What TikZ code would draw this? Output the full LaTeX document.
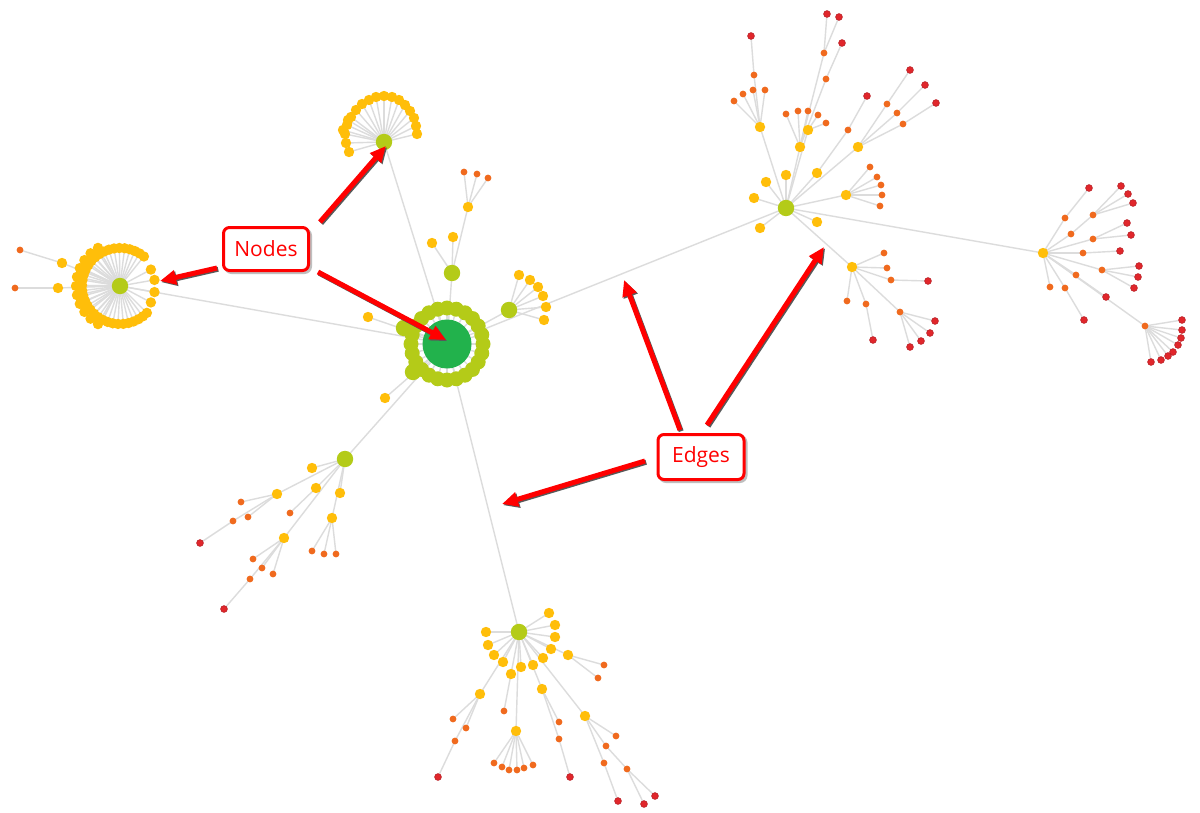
\documentclass[tikz,border=0pt]{standalone}
\usepackage{fontspec}
\newfontfamily\lab{Open Sans}
\usetikzlibrary{arrows.meta,calc}
\definecolor{cedge}{HTML}{DCDCDC}
\definecolor{clg}{HTML}{B4CB18}
\definecolor{cdg}{HTML}{22B24C}
\definecolor{cyl}{HTML}{FFBE0A}
\definecolor{cor}{HTML}{F06A1E}
\definecolor{crd}{HTML}{E1262B}
\definecolor{cdr}{HTML}{B81E25}
\tikzset{
 edge/.style={draw=cedge, line width=0.7pt},
 lg/.style={circle, fill=clg, inner sep=0pt, minimum size=8.2pt},
 dg/.style={circle, fill=cdg, inner sep=0pt, minimum size=24.5pt},
 yl/.style={circle, fill=cyl, inner sep=0pt, minimum size=5.2pt},
 orn/.style={circle, fill=cor, inner sep=0pt, minimum size=3.4pt},
 rdn/.style={circle, fill=crd, draw=cdr, line width=0.3pt, inner sep=0pt, minimum size=3.4pt},
 box/.style={draw=red, line width=1.5pt, rounded corners=3pt, fill=white, text=red,
   minimum width=42.5pt, minimum height=21.5pt, inner sep=0pt, font=\lab\fontsize{10.5}{12}\selectfont},
 boxsh/.style={box, draw=black!25, fill=black!25},
 arr/.style={line width=2.5pt, draw=red, -{Triangle[length=8pt,width=7pt]}},
 arrsh/.style={line width=2.5pt, draw=black!65, -{Triangle[length=8pt,width=7pt]}, transform canvas={xshift=0.6pt,yshift=-0.6pt}}
}
\newif\ifedgepass
% hub: style, name, position
\newcommand\hub[3]{\ifedgepass\coordinate (#2) at (#3);\else\node[#1] (#2) at (#3) {};\fi}
% kid: style, name, position, parent
\newcommand\kid[4]{\ifedgepass\coordinate (#2) at (#3);\draw[edge] (#4) -- (#2);\else\node[#1] (#2) at (#3) {};\fi}
% kids: style, prefix, parent, list of positions
\newcommand\kids[4]{\foreach \p [count=\i] in {#4}{\kid{#1}{#2\i}{\p}{#3}}}
% ring: style, prefix, parent, radius, angle list
\newcommand\ring[5]{\foreach \a [count=\i] in {#5}{\kid{#1}{#2\i}{$(#3)+(\a:#4)$}{#3}}}
\newcommand\callarrow[2]{\draw[arrsh] (#1) -- (#2); \draw[arr] (#1) -- (#2);}
\newcommand\graphbody{%
\hub{dg}{M}{447,344}
\kid{lg}{L}{120,286}{M}
\kid{lg}{T}{384,142}{M}
\kid{lg}{A}{452,273}{M}
\kid{lg}{B}{509,310}{M}
\kid{lg}{C}{345,459}{M}
\kid{lg}{D}{519,632}{M}
\kid{lg}{R}{786,208}{M}
\kid{yl}{R2}{1043,253}{R}
\kid{yl}{R3}{852,267}{R}
% main ring
\ring{lg,minimum size=7.5pt}{mr}{M}{36}{0,15,...,345}
\kid{lg}{mb1}{404,328}{M}
\kid{lg}{mb2}{413,372}{M}
\kid{yl}{m1}{368,317}{M}
\kid{yl}{m2}{385,398}{M}
% A
\kid{yl}{a1}{432,243}{A}
\kid{yl}{a2}{453,237}{A}
\kid{yl}{a3}{468,207}{A}
\kids{orn}{a3k}{a3}{{464,172},{477,174},{488,178}}
% B
\kids{yl}{bk}{B}{{519,275},{530,280},{538,287},{543,296},{546,307},{544,320}}
% L
\ring{yl}{lr}{L}{38}{45,53,...,315}
\ring{yl}{lx}{L}{44}{120,132,...,240}
\ring{yl}{ly}{L}{35}{-28,-10,10,28}
\kid{yl}{l1}{62,263}{L}
\kid{orn}{l1a}{20,250}{l1}
\kid{yl}{l2}{58,288}{L}
\kid{orn}{l2a}{15,288}{l2}
% T
\kids{yl}{tk}{T}{{349,152},{346,143},{345,134},{347,125},{351,117},{356,110},{362,104},{369,100},{376,97},{384,96},{392,97},{399,100},{405,105},{410,111},{414,118},{416,126},{417,134},{343,130},{348,120}}
% C
\kid{yl}{c1}{312,468}{C}
\kid{yl}{c2}{316,488}{C}
\kid{yl}{c3}{340,493}{C}
\kid{yl}{c4}{332,518}{C}
\kid{yl}{c5}{277,494}{C}
\kid{yl}{c6}{284,538}{C}
\kid{orn}{c5a}{241,502}{c5}
\kid{orn}{c5b}{248,517}{c5}
\kid{orn}{c5c}{233,521}{c5}
\kid{rdn}{c5d}{200,543}{c5c}
\kid{orn}{c2a}{290,513}{c2}
\kids{orn}{c4k}{c4}{{312,551},{324,554},{336,554}}
\kids{orn}{c6k}{c6}{{253,559},{262,568},{273,574}}
\kid{orn}{c6a}{250,579}{c6}
\kid{rdn}{c6b}{224,609}{c6a}
% D
\kids{yl}{dk}{D}{{549,613},{555,625},{555,637},{486,632},{488,645},{494,655},{503,662},{521,667},{533,665},{543,658},{551,649}}
\kid{yl}{d9}{511,674}{D}
\kid{yl}{d13}{568,655}{D}
\kid{yl}{d14}{480,694}{D}
\kid{yl}{d15}{542,689}{D}
\kid{yl}{d16}{585,716}{D}
\kid{yl}{d17}{516,731}{D}
\kids{orn}{d13k}{d13}{{604,665},{598,678}}
\kids{orn}{d14k}{d14}{{453,719},{466,728}}
\kid{orn}{d14a}{455,741}{d14}
\kid{rdn}{d14b}{438,777}{d14a}
\kid{orn}{d9a}{504,711}{d9}
\kids{orn}{d17k}{d17}{{494,763},{502,767},{509,770},{517,770},{524,768},{533,765}}
\kid{orn}{d15a}{559,722}{d15}
\kid{orn}{d15b}{559,739}{d15}
\kid{rdn}{d15c}{570,777}{d15b}
\kid{orn}{d16a}{616,736}{d16}
\kid{orn}{d16b}{606,746}{d16}
\kid{orn}{d16c}{627,769}{d16b}
\kid{rdn}{d16d}{655,796}{d16c}
\kid{rdn}{d16e}{644,804}{d16c}
\kid{orn}{d16f}{604,763}{d16}
\kid{rdn}{d16g}{618,801}{d16f}
% R
\kid{yl}{r1}{760,127}{R}
\kid{yl}{r2}{800,147}{R}
\kid{yl}{r3}{808,130}{R}
\kid{yl}{r4}{786,175}{R}
\kid{yl}{r5}{766,182}{R}
\kid{yl}{r6}{754,198}{R}
\kid{yl}{r7}{817,173}{R}
\kid{yl}{r8}{858,147}{R}
\kid{yl}{r9}{846,195}{R}
\kid{yl}{r10}{760,228}{R}
\kid{yl}{r11}{817,222}{R}
\kids{orn}{r1k}{r1}{{734,101},{743,94},{753,90},{765,90}}
\kid{orn}{r1a}{754,75}{r1}
\kid{rdn}{r1b}{751,36}{r1a}
\kids{orn}{r2k}{r2}{{786,114},{798,111},{808,111}}
\kid{orn}{r2a}{824,53}{r2}
\kids{rdn}{r2ak}{r2a}{{827,14},{839,17}}
\kid{orn}{r2b}{826,79}{r2}
\kid{rdn}{r2c}{842,43}{r2b}
\kids{orn}{r3k}{r3}{{818,115},{826,123}}
\kid{orn}{r7a}{848,130}{r7}
\kid{rdn}{r7b}{867,96}{r7a}
\kid{orn}{r8a}{887,104}{r8}
\kid{rdn}{r8b}{910,70}{r8a}
\kid{orn}{r8c}{897,113}{r8}
\kid{rdn}{r8d}{925,85}{r8c}
\kid{orn}{r8e}{903,124}{r8}
\kid{rdn}{r8f}{936,103}{r8e}
\kids{orn}{r9k}{r9}{{870,167},{877,177},{881,185},{882,195},{880,206}}
% R3
\kids{orn}{sk}{R3}{{884,253},{887,268},{847,301}}
\kid{orn}{s3}{891,280}{R3}
\kid{rdn}{s3a}{928,281}{s3}
\kid{orn}{s5}{866,304}{R3}
\kid{rdn}{s5a}{873,340}{s5}
\kid{orn}{s6}{900,312}{R3}
\kids{rdn}{s6k}{s6}{{935,321},{930,333},{921,341},{910,347}}
% R2
\kid{orn}{q1}{1065,218}{R2}
\kid{rdn}{q1a}{1089,188}{q1}
\kid{orn}{q2}{1071,234}{R2}
\kid{orn}{q2a}{1093,215}{q2}
\kids{rdn}{q2k}{q2a}{{1121,186},{1128,194},{1133,203}}
\kid{orn}{q3}{1093,239}{R2}
\kids{rdn}{q3k}{q3}{{1127,223},{1131,235}}
\kid{orn}{q4}{1083,253}{R2}
\kid{rdn}{q4a}{1120,251}{q4}
\kid{orn}{q5}{1102,270}{R2}
\kids{rdn}{q5k}{q5}{{1139,266},{1138,277},{1134,288}}
\kid{orn}{q6}{1076,275}{R2}
\kid{rdn}{q6a}{1106,297}{R2}
\kid{orn}{q7}{1145,326}{R2}
\kids{rdn}{q7k}{q7}{{1182,320},{1182,330},{1181,338},{1178,345},{1173,352},{1168,356},{1161,360},{1151,362}}
\kid{orn}{q8}{1050,287}{R2}
\kid{orn}{q9}{1065,288}{R2}
\kid{rdn}{q9a}{1084,320}{q9}
}
\begin{document}
\begin{tikzpicture}[x=0.5pt,y=-0.5pt]
\useasboundingbox[fill=white] (0,0) rectangle (1200,813);
\edgepasstrue
\graphbody
\edgepassfalse
\graphbody
% callouts
\node[boxsh] (Nsh) at (268,251) {};
\node[box] (N) at (266,249) {Nodes};
\node[boxsh, minimum width=43pt, minimum height=22.5pt] (Esh) at (703,459) {};
\node[box, minimum width=43pt, minimum height=22.5pt] (E) at (701,457) {Edges};
\coordinate (n1s) at (320,222); \coordinate (n1e) at (386,146);
\coordinate (n2s) at (217,268); \coordinate (n2e) at (160,281);
\coordinate (n3s) at (318,272); \coordinate (n3e) at (446,340);
\coordinate (e1s) at (680,430); \coordinate (e1e) at (624,280);
\coordinate (e2s) at (707,425); \coordinate (e2e) at (824,247);
\coordinate (e3s) at (645,461); \coordinate (e3e) at (502,504);
\callarrow{n1s}{n1e}
\callarrow{n2s}{n2e}
\callarrow{n3s}{n3e}
\callarrow{e1s}{e1e}
\callarrow{e2s}{e2e}
\callarrow{e3s}{e3e}
\end{tikzpicture}
\end{document}
